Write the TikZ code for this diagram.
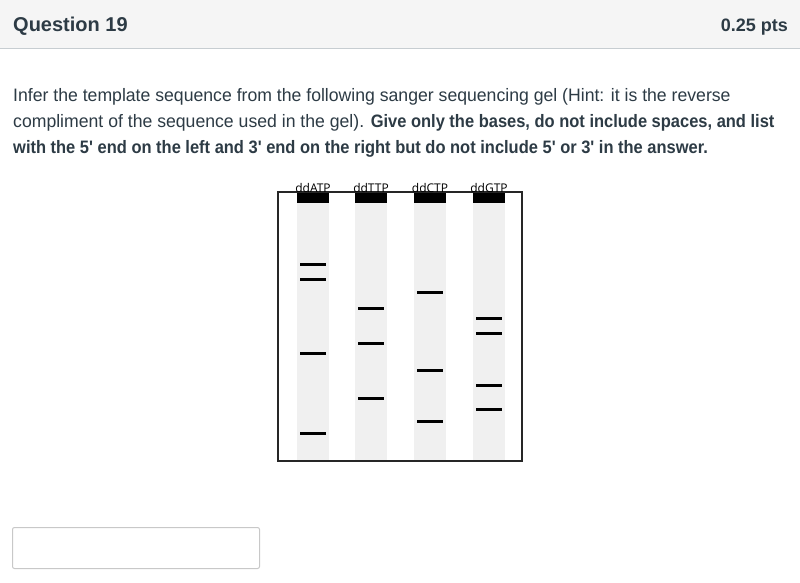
\documentclass[tikz,border=0pt]{standalone}
\usepackage{fontspec}
\setmainfont{Liberation Sans}
\newfontfamily\bodyfont{Liberation Sans}[FakeStretch=0.98, BoldFeatures={FakeStretch=0.915}]
\newfontfamily\gelfont{Open Sans}
\newcommand\ap{{\char"27}}
\definecolor{txt}{HTML}{2D3B45}
\definecolor{hdr}{HTML}{F5F5F5}
\definecolor{hline}{HTML}{C7CDD1}
\definecolor{lanec}{HTML}{F0F0F0}
\definecolor{boxc}{HTML}{C8C8C8}
\tikzset{
  txtline/.style={anchor=base west, inner sep=0pt, text=txt, font=\bodyfont\fontsize{18}{22}\selectfont},
  band/.style={line width=3pt, black},
  gellabel/.style={anchor=base, inner sep=0pt, font=\gelfont\fontsize{12}{14}\selectfont, text=black}
}
\begin{document}
\begin{tikzpicture}[x=1pt,y=-1pt]
\useasboundingbox (0,0) rectangle (800,582);
\fill[white] (0,0) rectangle (800,582);
% header
\fill[hdr] (0,0) rectangle (800,48);
\draw[hline, line width=1pt] (0,48) -- (800,48);
\node[anchor=base west, inner sep=0pt, text=txt, font=\bfseries\fontsize{20}{24}\selectfont] (title) at (13,31) {Question 19};
\node[anchor=base east, inner sep=0pt, text=txt, font=\bfseries\fontsize{18}{22}\selectfont] (pts) at (788,31) {0.25 pts};
% question text
\node[txtline] (l1) at (13,101) {Infer the template sequence from the following sanger sequencing gel (Hint: it is the reverse};
\node[txtline] (l2) at (13,127) {compliment of the sequence used in the gel). \textbf{Give only the bases, do not include spaces, and list}};
\node[txtline] (l3) at (13,153) {\textbf{with the 5\ap{} end on the left and 3\ap{} end on the right but do not include 5\ap{} or 3\ap{} in the answer.}};
% gel lanes
\foreach \n/\x in {a/297,t/355,c/414,g/473}{
  \fill[lanec] (\x,192) rectangle ++(32,269);
  \fill[black] (\x,192) rectangle ++(32,11);
}
\draw[black!85, line width=1.5pt] (278,192) rectangle (522,461);
\node[gellabel] (la) at (313,192) {ddATP};
\node[gellabel] (lt) at (371,192) {ddTTP};
\node[gellabel] (lc) at (430,192) {ddCTP};
\node[gellabel] (lg) at (489,192) {ddGTP};
% bands
\foreach \y in {264,279,353,433}{\draw[band] (300,\y) -- (326,\y);}
\foreach \y in {308,343,398}{\draw[band] (358,\y) -- (384,\y);}
\foreach \y in {292,370,421}{\draw[band] (417,\y) -- (443,\y);}
\foreach \y in {318,333,385,409}{\draw[band] (476,\y) -- (502,\y);}
% answer box
\draw[boxc, line width=1pt, rounded corners=2pt] (12.5,527.5) rectangle (259.5,568.5);
\end{tikzpicture}
\end{document}
